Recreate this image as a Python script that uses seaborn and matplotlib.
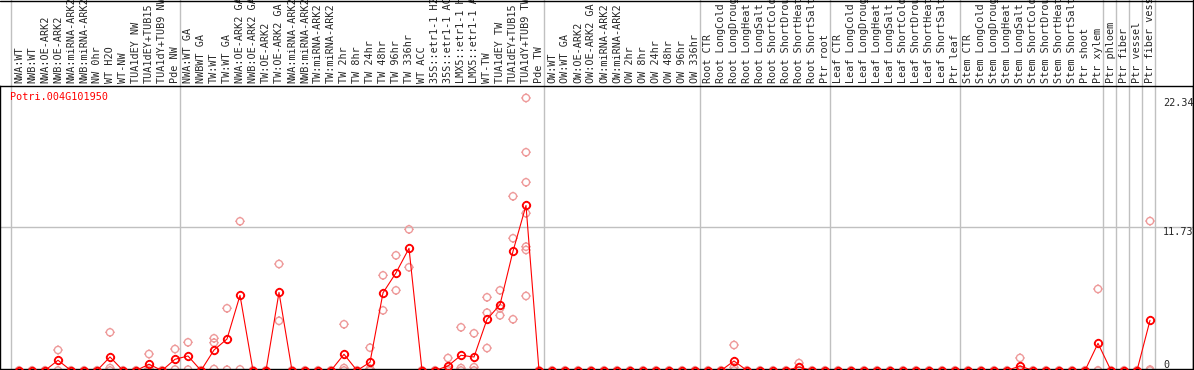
import matplotlib.pyplot as plt
import numpy as np
import pandas as pd
import seaborn as sns
from matplotlib.path import Path
from matplotlib.lines import Line2D

gene = 'Potri.004G101950'

labels = ['NWA:WT', 'NWB:WT', 'NWA:OE-ARK2', 'NWB:OE-ARK2', 'NWA:miRNA-ARK2', 'NWB:miRNA-ARK2',
          'NW 0hr', 'WT H2O', 'WT-NW', 'TUA1dEY NW', 'TUA1dEY+TUB15', 'TUA1dY+TUB9 NW', 'Pde NW',
          'NWA:WT GA', 'NWBWT GA', 'TW:WT', 'TW:WT GA', 'NWA:OE-ARK2 GA', 'NWB:OE-ARK2 GA',
          'TW:OE-ARK2', 'TW:OE-ARK2 GA', 'NWA:miRNA-ARK2', 'NWB:miRNA-ARK2', 'TW:miRNA-ARK2',
          'TW:miRNA-ARK2', 'TW 2hr', 'TW 8hr', 'TW 24hr', 'TW 48hr', 'TW 96hr', 'TW 336hr',
          'WT ACC', '35S::etr1-1 H2O', '35S::etr1-1 ACC', 'LMX5::etr1-1 H2O', 'LMX5::etr1-1 ACC',
          'WT-TW', 'TUA1dEY TW', 'TUA1dEY+TUB15', 'TUA1dY+TUB9 TW', 'Pde TW',
          'OW:WT', 'OW:WT GA', 'OW:OE-ARK2', 'OW:OE-ARK2 GA', 'OW:miRNA-ARK2', 'OW:miRNA-ARK2',
          'OW 2hr', 'OW 8hr', 'OW 24hr', 'OW 48hr', 'OW 96hr', 'OW 336hr',
          'Root CTR', 'Root LongCold', 'Root LongDrought', 'Root LongHeat', 'Root LongSalt',
          'Root ShortCold', 'Root ShortDrought', 'Root ShortHeat', 'Root ShortSalt', 'Ptr root',
          'Leaf CTR', 'Leaf LongCold', 'Leaf LongDrought', 'Leaf LongHeat', 'Leaf LongSalt',
          'Leaf ShortCold', 'Leaf ShortDrought', 'Leaf ShortHeat', 'Leaf ShortSalt', 'Ptr leaf',
          'Stem CTR', 'Stem LongCold', 'Stem LongDrought', 'Stem LongHeat', 'Stem LongSalt',
          'Stem ShortCold', 'Stem ShortDrought', 'Stem ShortHeat', 'Stem ShortSalt', 'Ptr shoot',
          'Ptr xylem', 'Ptr phloem', 'Ptr fiber', 'Ptr vessel', 'Ptr fiber vessel']

# replicate values per sample (columns not listed are all zero)
replicates = {
    3: [1.68, 0], 7: [3.13, 0.2, 0], 10: [1.35, 0.18, 0], 12: [1.76, 0.08],
    13: [2.31, 0.07], 15: [2.64, 2.28, 0.12], 16: [5.1, 0.06], 17: [12.23, 0.09],
    20: [8.73, 4.07], 25: [3.79, 0.2, 0], 27: [1.87, 0.15, 0], 28: [7.8, 4.93],
    29: [9.44, 6.57], 30: [11.57, 8.46], 33: [1.02, 0.1, 0], 34: [3.54, 0.2, 0],
    35: [3.05, 0.27, 0], 36: [6.0, 4.74, 1.84], 37: [6.57, 4.52, 5.1],
    38: [14.28, 10.84, 4.2], 39: [22.34, 17.89, 15.43, 12.89, 10.15, 9.88, 6.11],
    55: [2.09, 0.25, 0], 60: [0.61, 0.26, 0], 77: [1.03, 0.08, 0],
    83: [6.68, 0, 0], 87: [12.25, 0.08, 0],
}

means = [float(np.mean(replicates.get(i, [0, 0]))) for i in range(len(labels))]

# last sample index of each group (a grey separator follows it)
group_ends = [-1, 12, 40, 52, 62, 72, 83, 84, 85, 86, 87]

y_marks = [22.34, 11.73, 0]

rows = []
for i in range(len(labels)):
    for v in replicates.get(i, [0, 0]):
        rows.append({'pos': i, 'value': v})
rep_df = pd.DataFrame(rows)
mean_df = pd.DataFrame({'pos': np.arange(len(labels)), 'value': means})

sns.set_style('white')
plt.rcParams['font.family'] = ['DejaVu Sans Mono']

# circle (polygon) with four short ticks
ang = np.linspace(0, 2 * np.pi, 33)
tk = 1.28
verts = list(zip(np.cos(ang), np.sin(ang)))
codes = [Path.MOVETO] + [Path.LINETO] * 32
for a, b in [((1, 0), (tk, 0)), ((-1, 0), (-tk, 0)), ((0, 1), (0, tk)), ((0, -1), (0, -tk))]:
    verts += [a, b]
    codes += [Path.MOVETO, Path.LINETO]
marker = Path(verts, codes)

fig = plt.figure(figsize=(11.94, 3.70), dpi=100)
ax = fig.add_axes([0, 1 / 370, 1193 / 1194, 283 / 370])

for g in group_ends:
    ax.axvline(g + 0.38, ymin=0, ymax=1.31, color='#c0c0c0', lw=1.0, zorder=0.5, clip_on=False)
ax.axhline(y_marks[1], color='#c0c0c0', lw=1.0, zorder=0.5)

sns.scatterplot(data=rep_df, x='pos', y='value', ax=ax, marker=marker, s=44,
                facecolors='none', edgecolor='#ee9a9a', linewidth=1.0, zorder=2)
sns.lineplot(data=mean_df, x='pos', y='value', ax=ax, color='red', lw=0.8,
             marker=marker, ms=6.7, mfc='none', mec='red', mew=1.3, zorder=3)

ax.set_xlim(-19 / 13, (1193 - 19) / 13)
ax.set_ylim(1.5 / 12.2, 284.5 / 12.2)

ax.set_xticks(range(len(labels)), labels)
ax.tick_params(axis='x', top=True, labeltop=True, bottom=False, labelbottom=False,
               length=0, pad=2.5, labelrotation=90, labelsize=7.3)
ax.set_yticks([])
ax.set_xlabel('')
ax.set_ylabel('')

for v in y_marks:
    ax.text(88.0, v, f'{v:g}', fontsize=7.3, ha='left',
            va='bottom' if v == 0 else 'top')

ax.annotate(gene, xy=(0, 1), xycoords='axes fraction', xytext=(10, -11),
            textcoords='offset pixels', color='red', fontsize=7.3, ha='left', va='center')

for side in ['left', 'right', 'top', 'bottom']:
    ax.spines[side].set_color('black')
    ax.spines[side].set_linewidth(1.0)

fig.add_artist(Line2D([0, 1], [1 - 0.5 / 370] * 2, color='black', lw=1.0))
fig.add_artist(Line2D([1193 / 1194] * 2, [0, 1], color='black', lw=1.0))

fig.savefig('out.png', dpi=100)
